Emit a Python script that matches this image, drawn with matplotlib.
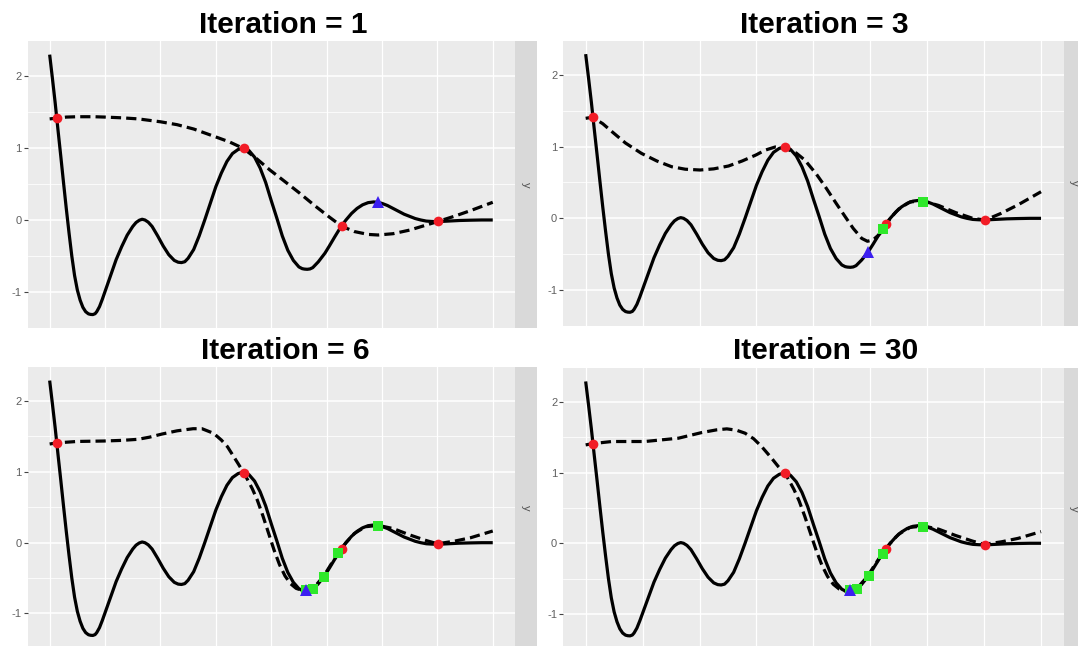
import matplotlib
matplotlib.use("Agg")
import matplotlib.pyplot as plt

plt.rcParams['font.family'] = ['Liberation Sans', 'DejaVu Sans']

# true objective function (solid line)
fn_x = [0.00, 0.05, 0.10, 0.15, 0.20, 0.25, 0.30, 0.35, 0.40, 0.45, 0.50, 0.55,
        0.60, 0.65, 0.70, 0.74, 0.78, 0.82, 0.85, 0.90, 0.95, 1.00, 1.10, 1.20, 1.30, 1.40,
        1.50, 1.56, 1.62, 1.67, 1.72, 1.78, 1.85, 1.95, 2.05, 2.15, 2.25, 2.32, 2.38, 2.44,
        2.50, 2.60, 2.70, 2.80, 2.90, 3.00, 3.10, 3.20, 3.30, 3.40, 3.46, 3.50, 3.55,
        3.60, 3.70, 3.80, 3.90, 4.00, 4.10, 4.20, 4.30, 4.40, 4.50, 4.56, 4.60, 4.65,
        4.70, 4.75, 4.85, 4.97, 5.05, 5.15, 5.27, 5.35, 5.45, 5.55, 5.65, 5.75, 5.85,
        5.92, 6.00, 6.10, 6.20, 6.30, 6.40, 6.50, 6.60, 6.70, 6.80, 6.90, 7.00, 7.20,
        7.40, 7.60, 7.80, 8.00]
fn_y = [2.29, 1.96, 1.62, 1.25, 0.89, 0.52, 0.16, -0.18, -0.50, -0.77, -0.97, -1.11,
        -1.21, -1.27, -1.30, -1.308, -1.31, -1.298, -1.27, -1.20, -1.10, -0.99, -0.77, -0.55, -0.37, -0.21,
        -0.09, -0.035, -0.003, 0.01, 0.0, -0.03, -0.09, -0.22, -0.36, -0.48, -0.56, -0.585, -0.59, -0.578,
        -0.53, -0.41, -0.22, 0.00, 0.23, 0.46, 0.65, 0.81, 0.92, 0.975, 0.99, 0.993, 0.985,
        0.96, 0.87, 0.72, 0.52, 0.27, 0.03, -0.22, -0.42, -0.56, -0.65, -0.674, -0.68, -0.683,
        -0.678, -0.66, -0.58, -0.46, -0.36, -0.23, -0.08, 0.00, 0.09, 0.16, 0.21, 0.24, 0.25,
        0.245, 0.23, 0.20, 0.16, 0.12, 0.08, 0.05, 0.02, 0.00, -0.015, -0.02, -0.023, -0.015,
        -0.007, -0.003, 0.0, 0.0]

# surrogate mean prediction (dashed line) per iteration
mean_x_1 = [0.0, 0.13, 0.3, 0.5, 0.8, 1.0, 1.3, 1.6, 2.0, 2.3, 2.6, 3.0, 3.25, 3.5,
            3.75, 3.98, 4.2, 4.5, 4.8, 5.05, 5.27, 5.5, 5.75, 5.93, 6.2, 6.5, 6.8,
            7.0, 7.3, 7.6, 8.0]
mean_y_1 = [1.40, 1.41, 1.425, 1.43, 1.43, 1.425, 1.415, 1.40, 1.36, 1.32, 1.26, 1.15,
            1.08, 0.99, 0.84, 0.69, 0.56, 0.38, 0.19, 0.04, -0.085, -0.16, -0.20, -0.208,
            -0.19, -0.14, -0.07, -0.023, 0.05, 0.13, 0.245]

mean_x_3 = [0.0, 0.12, 0.3, 0.46, 0.7, 0.98, 1.25, 1.51, 1.75, 2.01, 2.25, 2.51, 2.75,
            2.99, 3.15, 3.33, 3.51, 3.7, 3.85, 4.05, 4.21, 4.4, 4.56, 4.7, 4.85, 4.95,
            5.05, 5.15, 5.24, 5.35, 5.5, 5.7, 5.93, 6.2, 6.5, 6.8, 7.02, 7.3, 7.6, 8.0]
mean_y_3 = [1.395, 1.41, 1.32, 1.21, 1.05, 0.906, 0.80, 0.72, 0.685, 0.674, 0.69, 0.73,
            0.80, 0.883, 0.95, 0.995, 0.976, 0.91, 0.813, 0.62, 0.44, 0.21, 0.022, -0.14,
            -0.28, -0.32, -0.30, -0.23, -0.15, 0.00, 0.13, 0.23, 0.24, 0.18, 0.08, 0.00,
            -0.024, 0.07, 0.19, 0.371]

mean_x_6 = [0.0, 0.13, 0.5, 0.97, 1.3, 1.59, 1.8, 2.03, 2.3, 2.59, 2.75, 2.96, 3.1,
            3.21, 3.4, 3.51, 3.58, 3.66, 3.75, 3.85, 3.95, 4.05, 4.15, 4.25, 4.35,
            4.45, 4.55, 4.63, 4.75, 4.95, 5.1, 5.21, 5.35, 5.5, 5.7, 5.93, 6.2, 6.5,
            6.8, 7.0, 7.3, 7.6, 8.0]
mean_y_6 = [1.394, 1.41, 1.43, 1.436, 1.445, 1.46, 1.49, 1.535, 1.58, 1.61, 1.61, 1.545,
            1.45, 1.356, 1.12, 0.98, 0.88, 0.76, 0.60, 0.38, 0.14, -0.10, -0.31, -0.47,
            -0.58, -0.645, -0.672, -0.675, -0.655, -0.47, -0.28, -0.15, 0.00, 0.13, 0.225,
            0.245, 0.20, 0.11, 0.03, -0.015, 0.02, 0.07, 0.165]

mean_x_30 = [0.0, 0.12, 0.46, 1.04, 1.63, 2.04, 2.3, 2.48, 2.65, 2.8, 2.95, 3.09, 3.25,
             3.385, 3.51, 3.58, 3.66, 3.75, 3.85, 3.95, 4.05, 4.15, 4.25, 4.35, 4.45,
             4.55, 4.63, 4.75, 4.95, 5.1, 5.21, 5.35, 5.5, 5.7, 5.93, 6.2, 6.5, 6.8,
             7.0, 7.3, 7.6, 8.0]
mean_y_30 = [1.392, 1.41, 1.44, 1.44, 1.487, 1.567, 1.605, 1.619, 1.60, 1.558, 1.48, 1.37,
             1.22, 1.085, 0.98, 0.88, 0.76, 0.60, 0.38, 0.14, -0.10, -0.31, -0.47, -0.58,
             -0.645, -0.672, -0.675, -0.655, -0.47, -0.28, -0.15, 0.00, 0.13, 0.225, 0.245,
             0.20, 0.11, 0.03, -0.015, 0.02, 0.07, 0.165]

# initial design (red), proposed points so far (green), current proposal (blue)
init_x = [0.13, 3.50, 5.27, 7.01]
init_y = [1.41, 0.99, -0.085, -0.02]

prop_x_1, prop_y_1 = [], []
prop_x_3, prop_y_3 = [5.23, 5.93], [-0.15, 0.225]
prop_x_6, prop_y_6 = [4.63, 4.75, 4.95, 5.21, 5.92], [-0.668, -0.658, -0.48, -0.15, 0.236]
prop_x_30, prop_y_30 = [4.645, 4.76, 4.97, 5.22, 5.93], [-0.661, -0.652, -0.47, -0.15, 0.226]

new_x = [5.92, 4.967, 4.628, 4.645]
new_y = [0.245, -0.466, -0.668, -0.661]

iterations = [1, 3, 6, 30]
means = [(mean_x_1, mean_y_1), (mean_x_3, mean_y_3), (mean_x_6, mean_y_6), (mean_x_30, mean_y_30)]
props = [(prop_x_1, prop_y_1), (prop_x_3, prop_y_3), (prop_x_6, prop_y_6), (prop_x_30, prop_y_30)]

W, H = 1078, 646
fig = plt.figure(figsize=(W / 100, H / 100), dpi=100)


def px_axes(x0, x1, top, bot):
    return fig.add_axes([x0 / W, 1 - bot / H, (x1 - x0) / W, (bot - top) / H])


# panel boxes in pixels: left, right, top, bottom, strip right, title x, title baseline
boxes = [
    (27.5, 514.9, 41.2, 328.0, 536.5, 283.5, 33),
    (562.9, 1063.8, 40.8, 325.6, 1085, 824, 33),
    (27.5, 514.9, 367.4, 648.6, 536.5, 285, 359),
    (562.9, 1063.8, 368.3, 649.0, 1085, 826, 359),
]

for i, it in enumerate(iterations):
    x0, x1, top, bot, sx1, tx, ty = boxes[i]
    ax = px_axes(x0, x1, top, bot)
    ax.set_facecolor('#ebebeb')
    for s in ax.spines.values():
        s.set_visible(False)
    ax.set_xlim(-0.4, 8.4)
    ax.set_ylim(-1.496, 2.476)
    ax.set_xticks(range(9))
    ax.set_yticks([-1, 0, 1, 2])
    ax.set_yticks([-0.5, 0.5, 1.5], minor=True)
    ax.set_yticklabels(['-1', '0', '1', '2'])
    ax.tick_params(axis='x', length=0, labelbottom=False)
    ax.tick_params(axis='y', which='major', length=2.6, width=0.8, color='#444444',
                   labelsize=8, labelcolor='#606060', pad=1.5)
    ax.tick_params(axis='y', which='minor', length=0)
    ax.set_axisbelow(True)
    ax.grid(axis='x', which='major', color='white', lw=0.9)
    ax.grid(axis='y', which='major', color='white', lw=1.1)
    ax.grid(axis='y', which='minor', color='white', lw=0.55)

    ax.plot(fn_x, fn_y, color='black', lw=2.3, solid_capstyle='butt',
            solid_joinstyle='round', zorder=3)
    mx, my = means[i]
    ax.plot(mx, my, color='black', lw=2.3, linestyle=(0, (3.2, 1.6)),
            dash_capstyle='butt', dash_joinstyle='round', zorder=3)
    ax.plot(init_x, init_y, 'o', color='#f21c26', ms=7, mew=0, zorder=4)
    px, py = props[i]
    ax.plot(px, py, 's', color='#2ee82a', ms=7.2, mew=0, zorder=5)
    ax.plot([new_x[i]], [new_y[i]], '^', color='#3c1ff0', ms=8, mew=0, zorder=6)

    sax = px_axes(x1, sx1, top, bot)
    sax.set_facecolor('#d9d9d9')
    sax.set_xticks([])
    sax.set_yticks([])
    for s in sax.spines.values():
        s.set_visible(False)
    sax.text(0.5, 0.5, 'y', rotation=-90, ha='center', va='center',
             fontsize=8, color='#4d4d4d', transform=sax.transAxes)

    fig.text(tx / W, 1 - ty / H, 'Iteration = {}'.format(it), ha='center',
             va='baseline', fontsize=21.5, fontweight='bold')

fig.savefig('out.png', dpi=100)
